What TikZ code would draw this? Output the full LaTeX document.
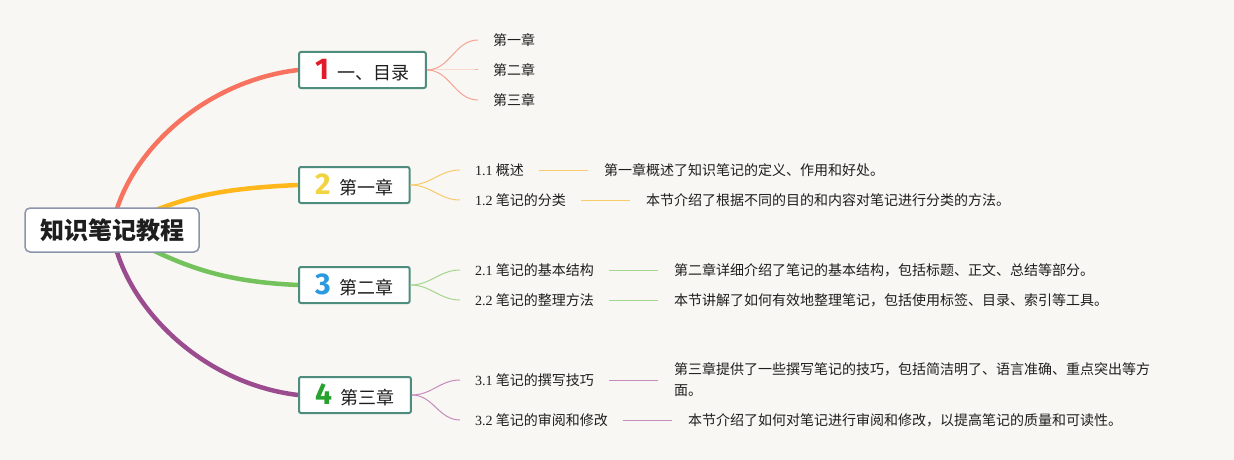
\documentclass[tikz,border=0pt]{standalone}
\usepackage{fontspec}
\setmainfont{Noto Sans CJK SC}
\newfontfamily\numfont{Liberation Serif}
\newfontfamily\digitfont{Fira Sans}
\usetikzlibrary{positioning,backgrounds}
\definecolor{paper}{RGB}{248,247,243}
\definecolor{rootline}{RGB}{138,148,170}
\definecolor{boxline}{RGB}{78,140,126}
\definecolor{redbranch}{RGB}{247,115,95}
\definecolor{yellowbranch}{RGB}{255,183,27}
\definecolor{greenbranch}{RGB}{116,194,91}
\definecolor{purplebranch}{RGB}{155,76,143}
\definecolor{redtwig}{RGB}{246,164,147}
\definecolor{yellowtwig}{RGB}{249,203,106}
\definecolor{greentwig}{RGB}{165,214,143}
\definecolor{purpletwig}{RGB}{197,139,187}
\definecolor{numred}{RGB}{226,27,44}
\definecolor{numyellow}{RGB}{242,211,64}
\definecolor{numblue}{RGB}{42,154,224}
\definecolor{numgreen}{RGB}{39,162,47}
\definecolor{inktext}{RGB}{30,30,30}
\newcommand{\chapnum}[2]{{\digitfont\bfseries\fontsize{30}{30}\selectfont\color{#1}#2}\hspace{9pt}}

\begin{document}
\begin{tikzpicture}[x=1pt, y=-1pt, every node/.style={text=inktext},
  rootbox/.style={draw=rootline, line width=1.5pt, fill=white, rounded corners=5pt, inner xsep=15pt, minimum height=44pt, font=\fontsize{24}{28}\selectfont\bfseries},
  chapbox/.style={draw=boxline, line width=2pt, fill=white, rounded corners=2pt, inner xsep=16pt, inner ysep=2pt, minimum height=36pt, anchor=west, font=\fontsize{18}{20}\selectfont},
  topic/.style={anchor=west, inner xsep=15pt, font=\fontsize{14}{17}\selectfont},
  note/.style={right=49pt of #1, inner xsep=16pt, align=left, font=\fontsize{14}{21}\selectfont},
  mainline/.style={line width=4.5pt},
  twig/.style={line width=1pt}]
\useasboundingbox (0,0) rectangle (1234,460);

\node[rootbox] (root) at (112,230) {知识笔记教程};

\node[chapbox] (c0) at (298,70) {\chapnum{numred}{1}一、目录};
\node[chapbox] (c1) at (298,185) {\chapnum{numyellow}{2}第一章};
\node[chapbox] (c2) at (298,285) {\chapnum{numblue}{3}第二章};
\node[chapbox] (c3) at (298,395) {\chapnum{numgreen}{4}第三章};

\node[topic] (t1) at (478,40) {第一章};
\node[topic] (t2) at (478,70) {第二章};
\node[topic] (t3) at (478,100) {第三章};

\node[topic] (s11) at (460,170) {{\numfont 1.1} 概述};
\node[note=s11] (n11) {第一章概述了知识笔记的定义、作用和好处。};
\node[topic] (s12) at (460,200) {{\numfont 1.2} 笔记的分类};
\node[note=s12] (n12) {本节介绍了根据不同的目的和内容对笔记进行分类的方法。};

\node[topic] (s21) at (460,270) {{\numfont 2.1} 笔记的基本结构};
\node[note=s21] (n21) {第二章详细介绍了笔记的基本结构，包括标题、正文、总结等部分。};
\node[topic] (s22) at (460,300) {{\numfont 2.2} 笔记的整理方法};
\node[note=s22] (n22) {本节讲解了如何有效地整理笔记，包括使用标签、目录、索引等工具。};

\node[topic] (s31) at (460,380) {{\numfont 3.1} 笔记的撰写技巧};
\node[note=s31] (n31) {第三章提供了一些撰写笔记的技巧，包括简洁明了、语言准确、重点突出等方\\面。};
\node[topic] (s32) at (460,420) {{\numfont 3.2} 笔记的审阅和修改};
\node[note=s32] (n32) {本节介绍了如何对笔记进行审阅和修改，以提高笔记的质量和可读性。};

\begin{scope}[on background layer]
  \fill[paper] (0,0) rectangle (1234,460);
  \draw[mainline, redbranch] (root.center) .. controls +(10,-70) and +(-100,12) .. (c0.west);
  \draw[mainline, yellowbranch] (root.center) .. controls +(60,-30) and +(-90,4) .. (c1.west);
  \draw[mainline, greenbranch] (root.center) .. controls +(60,30) and +(-90,-4) .. (c2.west);
  \draw[mainline, purplebranch] (root.center) .. controls +(10,72) and +(-100,-12) .. (c3.west);
\end{scope}

\draw[twig, redtwig] (c0.east) to[out=0, in=180] (t1.west);
\draw[twig, redtwig] (c0.east) to[out=0, in=180] (t2.west);
\draw[twig, redtwig] (c0.east) to[out=0, in=180] (t3.west);

\draw[twig, yellowtwig] (c1.east) to[out=0, in=180] (s11.west);
\draw[twig, yellowtwig] (c1.east) to[out=0, in=180] (s12.west);
\draw[twig, yellowtwig] (s11.east) -- (n11.west);
\draw[twig, yellowtwig] (s12.east) -- (n12.west);

\draw[twig, greentwig] (c2.east) to[out=0, in=180] (s21.west);
\draw[twig, greentwig] (c2.east) to[out=0, in=180] (s22.west);
\draw[twig, greentwig] (s21.east) -- (n21.west);
\draw[twig, greentwig] (s22.east) -- (n22.west);

\draw[twig, purpletwig] (c3.east) to[out=0, in=180] (s31.west);
\draw[twig, purpletwig] (c3.east) to[out=0, in=180] (s32.west);
\draw[twig, purpletwig] (s31.east) -- (n31.west);
\draw[twig, purpletwig] (s32.east) -- (n32.west);
\end{tikzpicture}
\end{document}
